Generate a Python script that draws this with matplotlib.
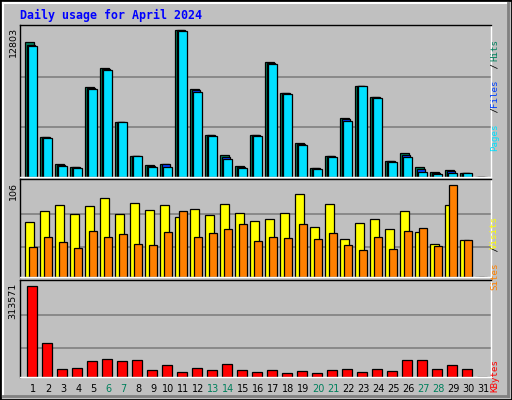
import matplotlib
matplotlib.use("Agg")
import matplotlib.pyplot as plt
import numpy as np
from matplotlib.patches import Rectangle
from matplotlib.lines import Line2D

days = np.arange(1, 32)
hits = [11790,3520,1167,906,7873,9528,4825,1864,1080,1167,12803,7699,3693,1951,993,
        3693,9990,7350,2996,819,1864,5173,7960,7002,1428,2125,906,470,644,383,0]
files = [11500,3480,1080,880,7780,9440,4825,1864,1000,1120,12780,7600,3650,1780,900,
         3650,9940,7300,2900,780,1820,5050,7960,6960,1380,1950,700,380,520,383,0]
pages = [11444,3431,993,819,7699,9354,4825,1864,906,906,12751,7438,3606,1603,819,
         3606,9877,7263,2822,732,1777,4912,7960,6915,1341,1777,470,296,383,383,0]
visits = [63,76,83,73,82,91,73,85,77,83,69,78,71,84,74,65,67,74,96,58,84,44,62,67,55,76,52,38,83,43,0]
sites = [35,46,40,33,53,46,50,38,37,52,76,46,51,55,61,41,46,45,61,44,51,37,31,46,32,53,56,36,106,43,0]
kbytes = [313571,117900,28600,32000,56000,62900,56000,59400,25100,42300,18300,32000,25100,45700,25100,
          18300,25100,14800,21700,14800,25100,28600,18300,28600,21700,59400,59400,28600,42300,28600,0]
weekends = [6,7,13,14,20,21,27,28]

W, H = 512, 400
BG = "#C0C0C0"
fig = plt.figure(figsize=(W/100, H/100), dpi=100)
fig.patch.set_facecolor(BG)

def fx(x): return x / W
def fy(y): return 1 - y / H

fig.add_artist(Rectangle((0, 0), 1, 1, transform=fig.transFigure, fill=False, ec="black", lw=2))
fig.add_artist(Line2D([fx(3), fx(508)], [fy(3), fy(3)], transform=fig.transFigure, color="white", lw=1.5))
fig.add_artist(Line2D([fx(3), fx(3)], [fy(3), fy(396)], transform=fig.transFigure, color="white", lw=1.5))
fig.add_artist(Line2D([fx(508), fx(508)], [fy(3), fy(396)], transform=fig.transFigure, color="#808080", lw=2))
fig.add_artist(Line2D([fx(3), fx(508)], [fy(396), fy(396)], transform=fig.transFigure, color="#808080", lw=2))

def mkax(y0, y1):
    ax = fig.add_axes([fx(20), fy(y1), (491-20)/W, (y1-y0)/H])
    ax.set_facecolor(BG)
    ax.set_xlim(20, 491)
    ax.set_xticks([]); ax.set_yticks([])
    for s in ax.spines.values():
        s.set_linewidth(1)
    ax.spines["top"].set_color("black")
    ax.spines["left"].set_color("black")
    ax.spines["right"].set_color("white")
    ax.spines["bottom"].set_color("white")
    return ax

base = 25 + 15 * (days - 1)

ax1 = mkax(25, 177)
ax1.set_ylim(0, 12803 * 152 / 147)
for g in (4355, 8710):
    ax1.axhline(g, color="#808080", lw=1.2, zorder=0)
ax1.bar(base, hits, width=8.5, align="edge", color="#00805C", ec="black", lw=0.9)
ax1.bar(base + 1.5, files, width=8.5, align="edge", color="#0040FF", ec="black", lw=0.9)
ax1.bar(base + 3, pages, width=8.5, align="edge", color="#00E0FF", ec="black", lw=0.9)

ax2 = mkax(179, 277)
ax2.set_ylim(0, 106 * 98 / 92)
for g in (35, 72.6):
    ax2.axhline(g, color="#808080", lw=1.2, zorder=0)
ax2.bar(base, visits, width=8.5, align="edge", color="#FFFF00", ec="black", lw=0.9)
ax2.bar(base + 4, sites, width=7.5, align="edge", color="#FF8000", ec="black", lw=0.9)

ax3 = mkax(280, 377)
ax3.set_ylim(0, 313571 * 97 / 91.3)
for g in (101000, 214300):
    ax3.axhline(g, color="#808080", lw=1.2, zorder=0)
ax3.bar(base + 1.5, kbytes, width=10, align="edge", color="#FF0000", ec="black", lw=0.9)

mono = "DejaVu Sans Mono"
fig.text(fx(20), fy(15), "Daily usage for April 2024", family=mono, weight="bold",
         color="#0000FF", fontsize=8.4, va="center", ha="left")

fig.text(fx(13), fy(27), "12803", rotation=90, fontsize=6.8, va="top", ha="center")
fig.text(fx(13), fy(182), "106", rotation=90, fontsize=6.8, va="top", ha="center")
fig.text(fx(13), fy(283), "313571", rotation=90, fontsize=6.8, va="top", ha="center")

STEP = 5.45
def vlabel(parts, ybottom, x=499):
    y = ybottom
    for txt, col in parts:
        fig.text(fx(x), fy(y), txt, rotation=90, family=mono, fontsize=6.6,
                 color=col, va="bottom", ha="center", rotation_mode="anchor")
        y -= len(txt) * STEP
vlabel([("Pages", "#00E0FF"), (" / ", "#000000"), ("Files", "#0040FF"),
        (" / ", "#000000"), ("Hits", "#00805C")], 137)
vlabel([("Sites", "#FF8000"), (" / ", "#000000"), ("Visits", "#FFFF00")], 276)
vlabel([("KBytes", "#FF0000")], 376)

for d in days:
    col = "#00805C" if d in weekends else "black"
    fig.text(fx(25 + 15 * (d - 1) + 8.5), fy(389), str(d), fontsize=7, color=col,
             ha="center", va="center")

fig.savefig("out.png", dpi=100, facecolor=BG)
